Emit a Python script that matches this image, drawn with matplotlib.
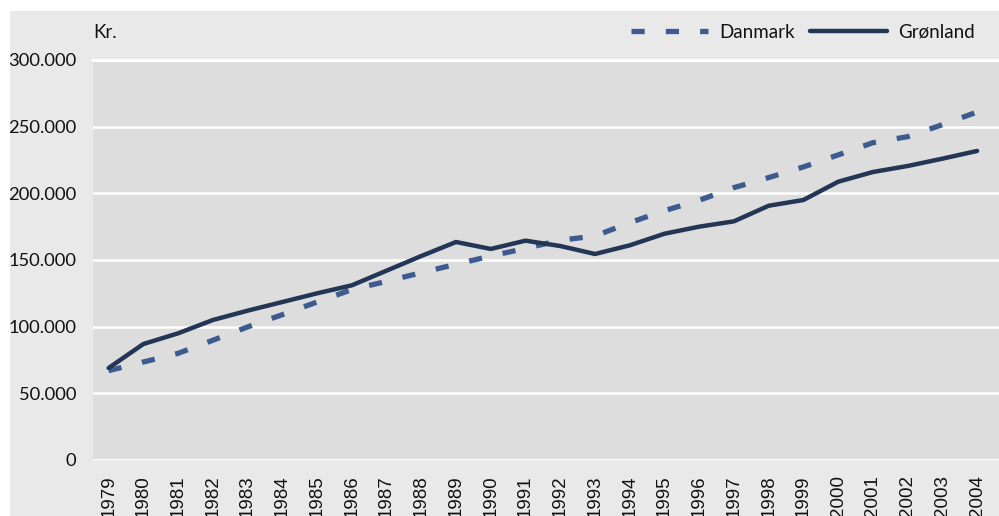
import matplotlib.pyplot as plt
from matplotlib.patches import Rectangle
from matplotlib.ticker import FuncFormatter

# Data (kr.)
years = [str(y) for y in range(1979, 2005)]
danmark = [67000, 73500, 80000, 89800, 99800, 109000, 118500, 127800, 134000, 140500,
           146800, 153000, 158700, 164800, 168000, 178000, 187000, 194800, 204300, 211800,
           219800, 228800, 238000, 242500, 251500, 261000]
groenland = [69000, 87000, 95000, 105000, 112000, 118500, 125000, 131000, 142000, 153000,
             163500, 158300, 164500, 160500, 154500, 161000, 169700, 175000, 179000, 190700,
             195000, 208700, 216000, 220500, 226000, 231800]
yticks = [0, 50000, 100000, 150000, 200000, 250000, 300000]

text_font = ['Lato', 'DejaVu Sans']
year_font = ['Liberation Sans', 'DejaVu Sans']

fig = plt.figure(figsize=(9.99, 5.16), dpi=100, facecolor='white')
fig.patches.append(Rectangle((10 / 999, 0), 1, 505 / 516, transform=fig.transFigure,
                             facecolor='#e9e9e9', edgecolor='none', zorder=-2))
ax = fig.add_axes([93 / 999, 56 / 516, 906 / 999, 400 / 516])
ax.set_facecolor('#dddddd')

x = list(range(len(years)))
ax.plot(x, danmark, color='#3e5b8f', lw=3.8, dashes=(2.5, 4.0), label='Danmark', zorder=3)
ax.plot(x, groenland, color='#243656', lw=3.2, solid_capstyle='round', label='Grønland', zorder=4)

ax.set_ylim(0, 300000)
ax.set_xlim(-0.45, len(years) - 0.37)
ax.set_yticks(yticks)
ax.yaxis.set_major_formatter(FuncFormatter(lambda v, p: f'{int(v):,}'.replace(',', '.')))
ax.set_xticks(x)
ax.set_xticklabels(years, rotation=90, fontfamily=year_font, fontsize=13.5)
for lab in ax.get_yticklabels():
    lab.set_fontfamily(text_font)
    lab.set_fontsize(13.2)
ax.tick_params(axis='both', length=0, colors='#111111')
ax.tick_params(axis='y', pad=12)
ax.tick_params(axis='x', pad=11)
ax.grid(axis='y', color='white', lw=1.8)
ax.set_axisbelow(True)
for s in ax.spines.values():
    s.set_visible(False)
ax.axhline(0, color='white', lw=2.2, zorder=1)
ax.axhline(300000, color='white', lw=2.2, zorder=1, clip_on=False)

fig.text(93 / 999, 1 - 32 / 516, 'Kr.', fontfamily=text_font, fontsize=13.5,
         va='center', ha='left', color='#111111')

leg = ax.legend(loc='center right', bbox_to_anchor=(988 / 999, 1 - 32 / 516),
                bbox_transform=fig.transFigure, ncol=2, frameon=False,
                handlelength=4.1, handletextpad=0.6, columnspacing=0.8,
                borderpad=0.2, prop={'family': text_font, 'size': 13.5})
for t in leg.get_texts():
    t.set_color('#111111')

fig.savefig('out.png', dpi=100, facecolor=fig.get_facecolor())
